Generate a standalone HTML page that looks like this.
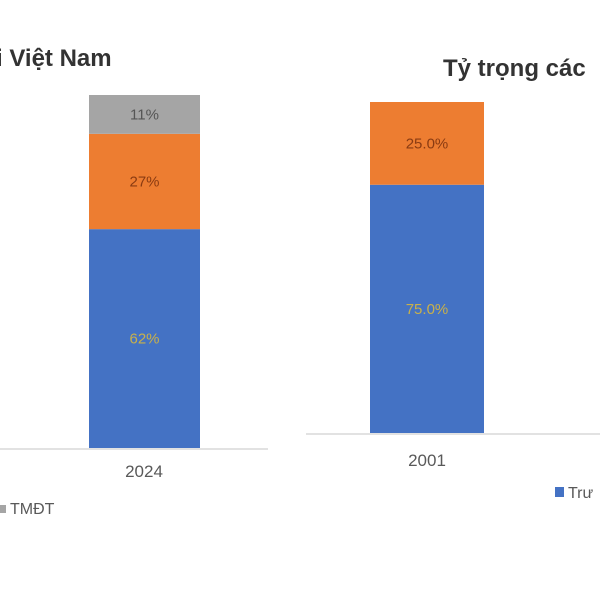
<!DOCTYPE html>
<html><head><meta charset="utf-8"><style>
html,body{margin:0;padding:0;background:#fff;}
svg{display:block;font-family:"Liberation Sans",sans-serif;}
</style></head><body>
<svg id="c" width="600" height="600">
<text x="-4" y="66" font-size="24" font-weight="bold" fill="#333">i Việt Nam</text>
<text x="443" y="76" font-size="24" font-weight="bold" fill="#333">Tỷ trọng các</text>
<line x1="0" y1="449" x2="268" y2="449" stroke="#d9d9d9" stroke-width="1.5"/>
<line x1="306" y1="434" x2="600" y2="434" stroke="#d9d9d9" stroke-width="1.5"/>
<text x="144" y="477" font-size="17" fill="#595959" text-anchor="middle">2024</text>
<text x="427" y="466" font-size="17" fill="#595959" text-anchor="middle">2001</text>
<rect x="0" y="505" width="6" height="8" fill="#a5a5a5"/>
<text x="10" y="514" font-size="16" fill="#595959">TMĐT</text>
<rect x="555" y="487" width="9" height="10" fill="#4472c4"/>
<text x="568" y="498" font-size="16" fill="#595959">Trư</text>
</svg>
<script>
const leftValues = [62, 27, 11];
const leftLabels = ["62%", "27%", "11%"];
const rightValues = [75, 25];
const rightLabels = ["75.0%", "25.0%"];
const colors = ["#4472c4", "#ed7d31", "#a5a5a5"];
const labelColors = ["#c9b14a", "#8a3b12", "#555"];
const svg = document.getElementById('c');
const NS = "http://www.w3.org/2000/svg";
function drawStack(vals, labels, x, w, base, top, names) {
  const total = vals.reduce((a,b)=>a+b,0);
  const scale = v => (base - top) * v / total;
  let y = base;
  vals.forEach((v,i)=>{
    const h = scale(v);
    const r = document.createElementNS(NS,'rect');
    r.setAttribute('x',x); r.setAttribute('y',y-h);
    r.setAttribute('width',w); r.setAttribute('height',h);
    r.setAttribute('fill',colors[i]);
    
    
    svg.appendChild(r);
    const t = document.createElementNS(NS,'text');
    t.setAttribute('x',x+w/2); t.setAttribute('y',y-h/2+5);
    t.setAttribute('text-anchor','middle'); t.setAttribute('font-size','15');
    t.setAttribute('fill',labelColors[i]);
    t.textContent = labels[i];
    
    
    svg.appendChild(t);
    y -= h;
  });
}
drawStack(leftValues, leftLabels, 89, 111, 448, 95, 'left-bar');
drawStack(rightValues, rightLabels, 370, 114, 433, 102, 'right-bar');
</script>
</body></html>
